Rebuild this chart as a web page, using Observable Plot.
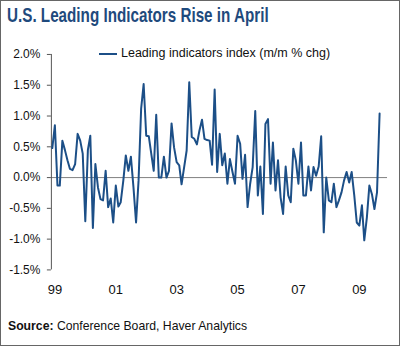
<!DOCTYPE html>
<html><head><meta charset="utf-8">
<script src="https://cdn.jsdelivr.net/npm/d3@7"></script>
<script src="https://cdn.jsdelivr.net/npm/@observablehq/plot@0.6"></script>
<style>
body{margin:0;background:#fff;}
#wrap{position:relative;width:398px;height:344px;border:1px solid #666;overflow:hidden;font-family:"Liberation Sans",Arial,sans-serif;background:#fff;}
#title{position:absolute;left:6px;top:2px;font-size:21px;font-weight:bold;color:#1f4a7d;white-space:nowrap;transform:scaleX(0.725);transform-origin:0 0;}
#chart{position:absolute;left:-1px;top:39px;}
#legend{position:absolute;left:99px;top:6px;font-size:12.5px;color:#111;white-space:nowrap;}
#legend .sw{display:inline-block;width:18px;height:2px;background:#1c4f87;vertical-align:middle;margin-right:4px;}
#source{position:absolute;left:7px;top:317px;font-size:13px;color:#111;white-space:nowrap;transform:scaleX(0.94);transform-origin:0 0;}
</style></head><body>
<div id="wrap">
<div id="title">U.S. Leading Indicators Rise in April</div>
<div id="chart"></div>
<div id="source"><b>Source:</b> Conference Board, Haver Analytics</div>
</div>
<script>
// Monthly % change of leading indicators index
const values = [0.48,0.85,-0.13,-0.13,0.60,0.45,0.28,0.14,0.12,0.22,
0.71,0.60,0.39,-0.71,0.45,0.68,-0.82,0.22,-0.16,-0.35,
-0.37,0.11,-0.48,-0.34,-0.73,-0.13,-0.47,-0.40,-0.05,0.36,
0.11,0.34,-0.16,-0.73,-0.05,1.12,1.52,0.68,0.67,0.40,
0.11,1.02,0.0,0.0,0.34,0.0,0.11,0.88,0.49,0.25,
0.20,-0.11,0.17,0.44,1.55,0.66,0.63,0.54,0.76,0.94,
0.63,0.61,0.60,0.21,1.43,0.09,0.71,0.20,0.39,-0.10,
0.30,0.09,-0.10,0.68,0.55,-0.02,0.37,-0.48,-0.10,0.17,
1.08,-0.29,0.18,-0.59,0.87,0.95,-0.10,0.57,-0.21,0.28,
-0.32,-0.59,0.18,-0.29,-0.40,0.47,0.28,-0.10,0.57,-0.29,
-0.29,0.18,-0.21,0.17,0.03,0.18,0.67,-0.89,0.0,-0.37,
-0.40,-0.10,-0.48,-0.37,-0.24,-0.05,0.09,-0.08,0.09,-0.29,
-0.73,-0.78,-0.45,-1.02,-0.65,-0.13,-0.27,-0.51,-0.24,1.04];
const seriesName = "Leading indicators index (m/m % chg)";
const yTicks = [-1.5,-1.0,-0.5,0,0.5,1.0,1.5,2.0];
const xTickYears = [1999,2001,2003,2005,2007,2009];
const xTickLabels = ["99","01","03","05","07","09"];

const startMonth = new Date(Date.UTC(1998,11,1));
const months = d3.utcMonth.range(startMonth, d3.utcMonth.offset(startMonth, values.length));
const data = values.map((v,i)=>({date:months[i], v}));
const xTicks = xTickYears.map(y=>new Date(Date.UTC(y,0,1)));

const chart = Plot.plot({
  width:400, height:265,
  marginLeft:51, marginRight:12, marginTop:14, marginBottom:35,
  style:{fontFamily:'"Liberation Sans",Arial,sans-serif', fontSize:"12px", color:"#111", background:"transparent"},
  x:{type:"utc", domain:[new Date(Date.UTC(1998,10,20)), new Date(Date.UTC(2009,11,5))]},
  y:{domain:[-1.5,2.0]},
  marks:[
    Plot.ruleY([0],{stroke:"#808080",strokeWidth:1}),
    Plot.ruleX([new Date(Date.UTC(1998,10,20))],{y1:-1.5,y2:2.0,stroke:"#555",strokeWidth:1}),
    Plot.axisY({ticks:yTicks, tickSize:4, tickPadding:7, tickFormat:d=>d.toFixed(1)+"%", stroke:"#555", fontSize:12, label:null}),
    Plot.axisX({ticks:xTicks, tickSize:0, tickPadding:15, tickFormat:(d,i)=>xTickLabels[i], fontSize:13, label:null}),
    Plot.line(data,{x:"date",y:"v",stroke:"#1c4f87",strokeWidth:2,strokeLinejoin:"round"})
  ]
});
document.getElementById("chart").appendChild(chart);
const lg = document.createElement("div");
lg.id="legend";
lg.innerHTML = '<span class="sw"></span>'+seriesName;
document.getElementById("chart").appendChild(lg);
</script>
</body></html>
